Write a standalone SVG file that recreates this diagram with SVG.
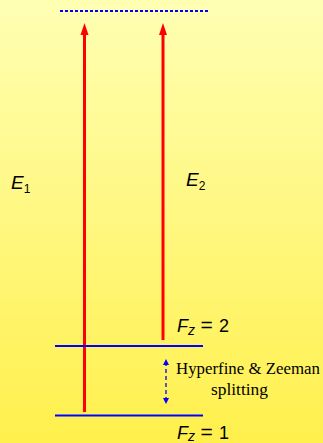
<svg xmlns="http://www.w3.org/2000/svg" width="323" height="443" viewBox="0 0 323 443">
<defs>
<linearGradient id="bg" x1="0" y1="0" x2="0" y2="1">
<stop offset="0" stop-color="#FFFFB4"/>
<stop offset="1" stop-color="#FFF04C"/>
</linearGradient>
<marker id="bluehead" viewBox="0 0 6 6" refX="3" refY="3" markerWidth="6" markerHeight="6" markerUnits="userSpaceOnUse" orient="auto-start-reverse">
<path d="M0,0 L6,3 L0,6 z" fill="#0000FF"/>
</marker>
</defs>
<style>
.lvl{stroke:#0000FF;stroke-width:2;fill:none}
.red{stroke:#FF0000;stroke-width:3;fill:none}
.head{fill:#FF0000}
.sans{font-family:"Liberation Sans",Arial,sans-serif;fill:#000}
.serif{font-family:"Liberation Serif","Times New Roman",serif;fill:#000;font-size:16.5px}
</style>
<rect width="323" height="443" fill="url(#bg)"/>
<g id="connectors">
<line x1="60" y1="11" x2="209" y2="11" stroke="#0000FF" stroke-width="2" stroke-dasharray="3,2"/>
<line class="red" x1="84.5" y1="412" x2="84.5" y2="33"/>
<path class="head" d="M84.5,23 L88.5,35 L80.5,35 z"/>
<line class="red" x1="163" y1="340" x2="163" y2="33"/>
<path class="head" d="M163,23 L167,35 L159,35 z"/>
<line x1="166" y1="362" x2="166" y2="401" stroke="#0000FF" stroke-width="1.3" stroke-dasharray="4,3" marker-start="url(#bluehead)" marker-end="url(#bluehead)"/>
</g>
<g id="level-upper"><line class="lvl" x1="55" y1="346" x2="203" y2="346"/></g>
<g id="level-lower"><line class="lvl" x1="55" y1="415.5" x2="203" y2="415.5"/></g>
<g id="label-E1"><text class="sans" x="11" y="189" font-size="19" font-style="italic">E<tspan font-size="12" font-style="normal" dy="4">1</tspan></text></g>
<g id="label-E2"><text class="sans" x="186" y="186" font-size="19" font-style="italic">E<tspan font-size="12" font-style="normal" dy="4">2</tspan></text></g>
<g id="label-Fz2"><text class="sans" x="177" y="332" font-size="18"><tspan font-style="italic">F</tspan><tspan font-style="italic" font-size="14" dy="3" x="188">z</tspan><tspan dy="-3" x="200.5" font-size="21">=</tspan><tspan x="219">2</tspan></text></g>
<g id="label-Fz1"><text class="sans" x="177" y="439" font-size="18"><tspan font-style="italic">F</tspan><tspan font-style="italic" font-size="14" dy="2" x="188">z</tspan><tspan dy="-2" x="200.5" font-size="21">=</tspan><tspan x="219">1</tspan></text></g>
<g id="label-split">
<text class="serif" x="176" y="374" textLength="144" lengthAdjust="spacingAndGlyphs">Hyperfine &amp; Zeeman</text>
<text class="serif" x="211" y="395" textLength="57" lengthAdjust="spacingAndGlyphs">splitting</text>
</g>
</svg>
